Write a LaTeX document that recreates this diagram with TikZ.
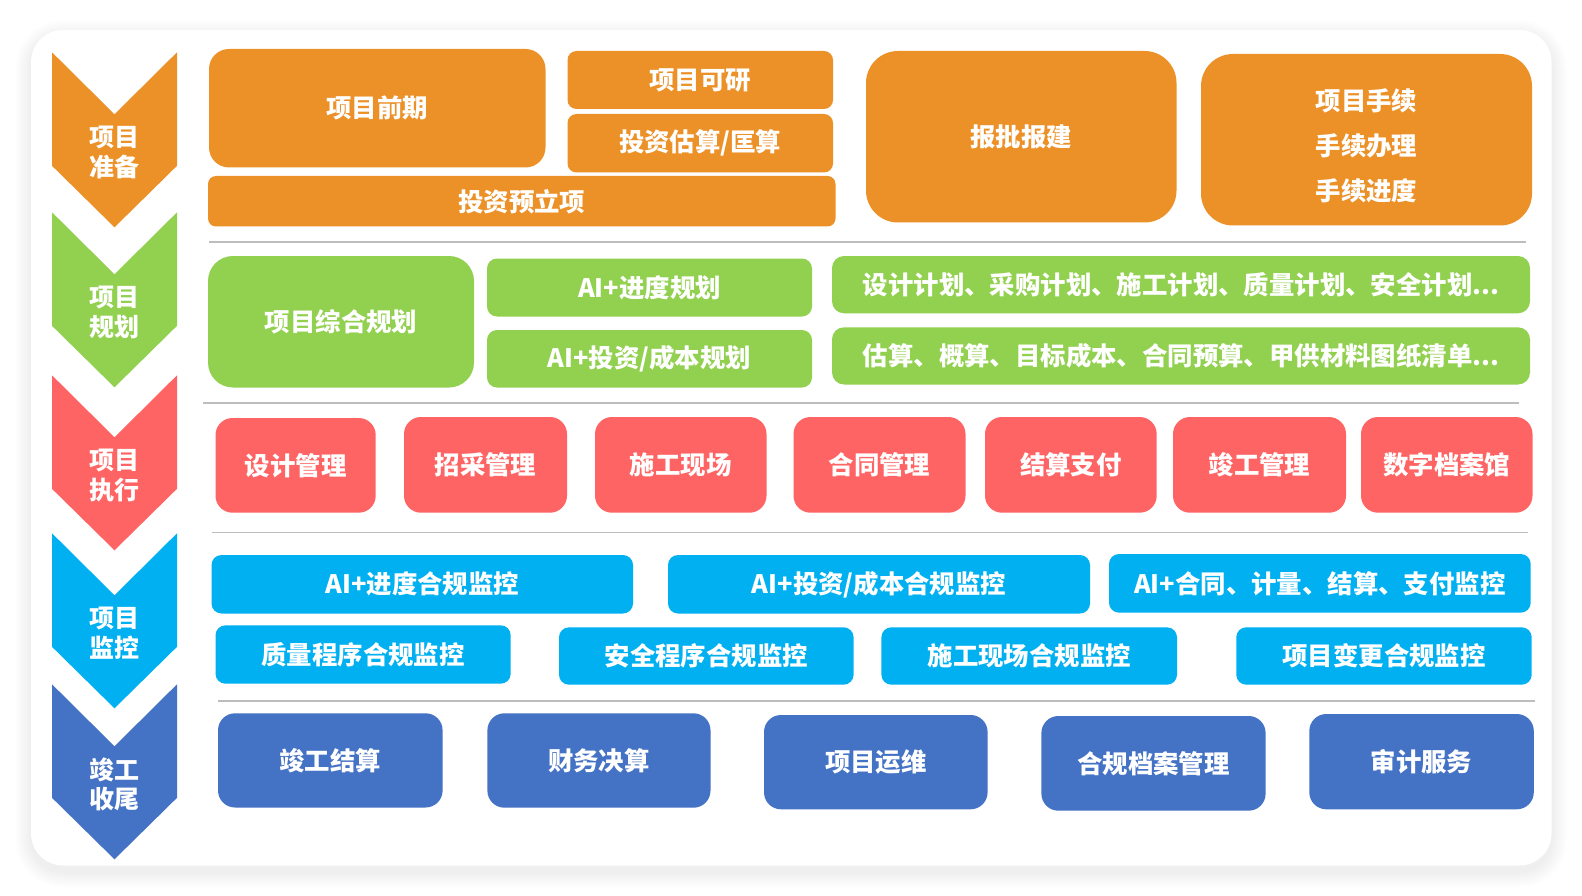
\documentclass[tikz,border=0pt]{standalone}
\usepackage{fontspec}
\setmainfont{Noto Sans CJK SC}
\definecolor{corange}{HTML}{EC9128}
\definecolor{cgreen}{HTML}{92D050}
\definecolor{cred}{HTML}{FF6464}
\definecolor{cblue}{HTML}{00B0F0}
\definecolor{cnavy}{HTML}{4472C4}
\definecolor{cline}{HTML}{BDBDBD}
\tikzset{
  bx/.style={inner sep=0pt, text=white, align=center, font=\bfseries\fontsize{25.4}{30}\selectfont},
  chevtext/.style={inner sep=0pt, text=white, align=center, font=\bfseries\fontsize{25}{29.5}\selectfont},
  divider/.style={draw=cline, line width=1.5pt},
}
\newcommand\mybox[8]{%
  \node[bx, fill=#2, rounded corners=#3pt, minimum width={(#6)-(#4)}, minimum height={(#7)-(#5)}]
    (#1) at ({((#4)+(#6))/2},{((#5)+(#7))/2}) {#8};}
\newcommand\mychev[4]{%
  \fill[#2] (52,#3) -- (114.5,{#3+62}) -- (177,#3) -- (177,{#3+113.5}) -- (114.5,{#3+175}) -- (52,{#3+113.5}) -- cycle;
  \node[chevtext] (#1) at (114,{#3+100}) {#4};}
\begin{document}
\begin{tikzpicture}[x=1pt,y=-1pt]
\useasboundingbox (0,0) rectangle (1582,896);
\fill[white] (0,0) rectangle (1582,896);
% card shadow
\foreach \i [evaluate=\i as \r using 32+\i] in {1,...,16} {
  \fill[black,opacity=0.004,rounded corners=\r pt] ({31-\i},{30-\i+6}) rectangle ({1551.5+\i},{865.5+\i+6});
}
\fill[white,rounded corners=32pt] (31,30) rectangle (1551.5,865.5);
% chevrons
\mychev{c1}{corange}{52.3}{项目\\准备}
\mychev{c2}{cgreen}{212.3}{项目\\规划}
\mychev{c3}{cred}{375.3}{项目\\执行}
\mychev{c4}{cblue}{533.3}{项目\\监控}
\mychev{c5}{cnavy}{684.3}{竣工\\收尾}
% dividers
\coordinate (d1a) at (209,242); \coordinate (d1b) at (1526,242);
\coordinate (d2a) at (203,403); \coordinate (d2b) at (1519,403);
\coordinate (d3a) at (212,532.5); \coordinate (d3b) at (1528,532.5);
\coordinate (d4a) at (218,701); \coordinate (d4b) at (1535,701);
\draw[divider] (d1a) -- (d1b);
\draw[divider] (d2a) -- (d2b);
\draw[divider] (d3a) -- (d3b);
\draw[divider] (d4a) -- (d4b);
% row 1
\mybox{qq}{corange}{20}{209}{49}{545.5}{167.5}{项目前期}
\mybox{ky}{corange}{9}{567.5}{51}{833}{109}{项目可研}
\mybox{gs}{corange}{9}{567.5}{114}{833}{172.5}{投资估算/匡算}
\mybox{lx}{corange}{8}{208}{176}{835.5}{226.5}{投资预立项}
\mybox{bp}{corange}{32}{866}{51}{1176.5}{222.5}{报批报建}
\mybox{sx}{corange}{32}{1201}{54}{1532}{225.5}{}
\node[bx, font=\bfseries\fontsize{25.4}{45}\selectfont] (sxt) at (1366.5,146) {项目手续\\手续办理\\手续进度};
% row 2
\mybox{zh}{cgreen}{25}{208}{256}{474}{387.5}{项目综合规划}
\mybox{jd}{cgreen}{10}{487}{258.5}{812}{316.5}{AI+进度规划}
\mybox{tz}{cgreen}{10}{487}{330}{812}{387.5}{AI+投资/成本规划}
\mybox{jh}{cgreen}{12}{832}{256}{1530}{313.3}{设计计划、采购计划、施工计划、质量计划、安全计划...}
\mybox{gu}{cgreen}{12}{832}{327.3}{1530}{384.5}{估算、概算、目标成本、合同预算、甲供材料图纸清单...}
% row 3
\mybox{r1}{cred}{17}{215.5}{418}{375.7}{512.7}{设计管理}
\mybox{r2}{cred}{17}{404}{417}{567}{512.7}{招采管理}
\mybox{r3}{cred}{17}{595}{417}{766.5}{512.7}{施工现场}
\mybox{r4}{cred}{17}{793.5}{417}{965.5}{512.7}{合同管理}
\mybox{r5}{cred}{17}{985}{417}{1156.7}{512.7}{结算支付}
\mybox{r6}{cred}{17}{1173}{417}{1346}{512.7}{竣工管理}
\mybox{r7}{cred}{17}{1361}{417}{1532.5}{512.7}{数字档案馆}
% row 4
\mybox{b1}{cblue}{10}{211.5}{555}{633}{613.5}{AI+进度合规监控}
\mybox{b2}{cblue}{10}{668}{555}{1090}{613.5}{AI+投资/成本合规监控}
\mybox{b3}{cblue}{10}{1109}{554}{1530.7}{612.7}{AI+合同、计量、结算、支付监控}
\mybox{b4}{cblue}{10}{215.5}{625.3}{510.7}{683.7}{质量程序合规监控}
\mybox{b5}{cblue}{10}{559}{627.3}{853.6}{684.7}{安全程序合规监控}
\mybox{b6}{cblue}{10}{881.4}{627.3}{1177}{684.7}{施工现场合规监控}
\mybox{b7}{cblue}{10}{1236.3}{627.3}{1531.7}{684.7}{项目变更合规监控}
% row 5
\mybox{n1}{cnavy}{17}{218}{713.3}{442.6}{807.5}{竣工结算}
\mybox{n2}{cnavy}{17}{487.4}{713.3}{710.5}{807.7}{财务决算}
\mybox{n3}{cnavy}{17}{764}{715}{987.6}{809.3}{项目运维}
\mybox{n4}{cnavy}{17}{1041.4}{716}{1265.6}{810.7}{合规档案管理}
\mybox{n5}{cnavy}{17}{1309.3}{714}{1533.8}{809.3}{审计服务}
\end{tikzpicture}
\end{document}
